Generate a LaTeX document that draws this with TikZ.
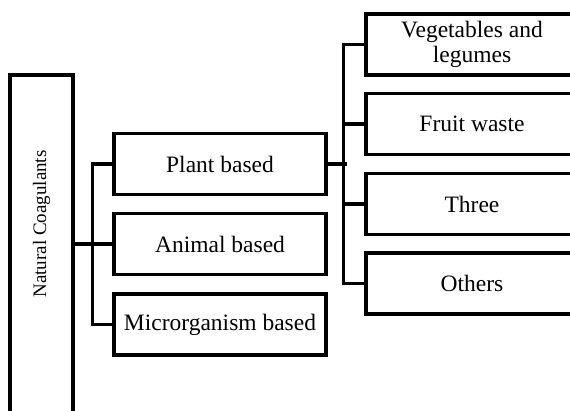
\documentclass[tikz,border=0pt]{standalone}
\usepackage{fontspec}
\setmainfont{Liberation Serif}
\usepackage{tikz}
\usetikzlibrary{positioning}

\tikzset{
  catbox/.style={draw,line width=3.5pt,minimum width=212pt,minimum height=61pt,
    align=center,inner sep=0pt,font=\fontsize{23.5}{25.5}\selectfont},
  link/.style={line width=3.5pt}
}

\begin{document}
\begin{tikzpicture}[x=1pt,y=-1pt]
  \useasboundingbox (0,0) rectangle (570,410);
  \clip (0,0) rectangle (570,410);
  % root box, cut off by the bottom edge
  \draw[link] (10,75) rectangle (73,440);
  \node[rotate=90,font=\fontsize{19}{21}\selectfont] (natcoag) at (41.5,224) {Natural Coagulants};
  \coordinate (ncout) at (73,244);
  % first level
  \node[catbox] (plant) at (220,164) {Plant based};
  \node[catbox] (animal) at (220,244) {Animal based};
  \node[catbox] (micro) at (220,324.5) {Microrganism based};
  % second level
  \node[catbox] (veg) at (472,44.5) {Vegetables and\\legumes};
  \node[catbox] (fruit) at (472,124) {Fruit waste};
  \node[catbox] (three) at (472,204) {Three};
  \node[catbox] (others) at (472,283.5) {Others};
  % connectors
  \draw[link] (ncout) -- (animal.west);
  \draw[link] (plant.west) -- ++(-20,0) |- (micro.west);
  \draw[link] (plant.east) -- ++(19,0);
  \draw[link] (veg.west) -- ++(-21,0) |- (others.west);
  \draw[link] (fruit.west) -- ++(-21,0);
  \draw[link] (three.west) -- ++(-21,0);
\end{tikzpicture}
\end{document}
